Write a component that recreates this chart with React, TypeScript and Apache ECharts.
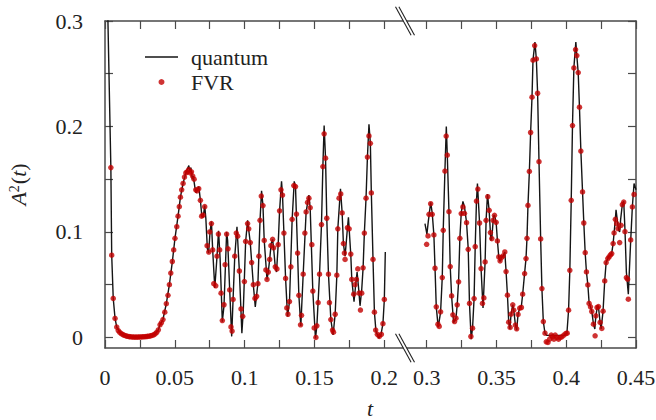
import React, { useEffect, useRef } from "react";
import * as echarts from "echarts";

// ---- axis ticks / labels ----
const xTicksLeft = [0, 0.025, 0.05, 0.075, 0.1, 0.125, 0.15, 0.175, 0.2];
const xLabelsLeft = [0, 0.05, 0.1, 0.15, 0.2];
const xTicksRight = [0.3, 0.325, 0.35, 0.375, 0.4, 0.425, 0.45];
const xLabelsRight = [0.3, 0.35, 0.4, 0.45];
const yTicks = [0, 0.05, 0.1, 0.15, 0.2, 0.25, 0.3];
const yLabels = [0, 0.1, 0.2, 0.3];

// ---- quantum curve (t, A^2) ----
const quantumLeft = [
  [0, 1.0], [0.0021, 0.30], [0.0042, 0.161], [0.0048, 0.078], [0.0059, 0.037], [0.0072, 0.018],
  [0.0084, 0.0098], [0.0106, 0.0048], [0.0139, 0.002], [0.018, 0.0006], [0.024, 0.0004],
  [0.030, 0.0009], [0.0337, 0.0019], [0.0359, 0.0034], [0.0382, 0.0072], [0.0394, 0.012],
  [0.0415, 0.017], [0.0439, 0.032], [0.0461, 0.050], [0.0482, 0.0716], [0.0501, 0.094],
  [0.0523, 0.115], [0.0540, 0.133], [0.0559, 0.146], [0.0579, 0.156], [0.0600, 0.163],
  [0.0608, 0.157], [0.0615, 0.161], [0.0625, 0.150], [0.0632, 0.153], [0.0645, 0.141],
  [0.0652, 0.137], [0.0662, 0.141], [0.0672, 0.143], [0.0683, 0.130], [0.0694, 0.114],
  [0.0704, 0.115], [0.0714, 0.125], [0.0722, 0.113], [0.0733, 0.084], [0.0742, 0.080],
  [0.0752, 0.100], [0.0762, 0.110], [0.0771, 0.083], [0.0786, 0.047], [0.0800, 0.073],
  [0.0813, 0.101], [0.0824, 0.075], [0.0840, 0.015], [0.0852, 0.030], [0.0871, 0.100],
  [0.0878, 0.092], [0.0893, 0.0445], [0.0907, 0.001], [0.0917, 0.036], [0.0929, 0.0766],
  [0.0945, 0.105], [0.0962, 0.063], [0.0980, 0.004], [0.0990, 0.025], [0.1007, 0.091],
  [0.1021, 0.111], [0.1040, 0.090], [0.1062, 0.050], [0.1076, 0.029], [0.1095, 0.0514],
  [0.1110, 0.111], [0.1121, 0.139], [0.1131, 0.125], [0.1140, 0.092], [0.1160, 0.055],
  [0.1169, 0.062], [0.1179, 0.074], [0.1190, 0.089], [0.1200, 0.093], [0.1207, 0.085],
  [0.1219, 0.067], [0.1228, 0.062], [0.1240, 0.088], [0.1250, 0.120], [0.1264, 0.148],
  [0.1271, 0.135], [0.1281, 0.099], [0.1293, 0.056], [0.1307, 0.020], [0.1321, 0.034],
  [0.1340, 0.112], [0.1355, 0.148], [0.1364, 0.143], [0.1379, 0.080], [0.1388, 0.040],
  [0.1402, 0.011], [0.1419, 0.060], [0.1440, 0.119], [0.1460, 0.135], [0.1469, 0.123],
  [0.1488, 0.044], [0.1507, -0.001], [0.1517, 0.011], [0.1536, 0.060], [0.1550, 0.107],
  [0.1560, 0.162], [0.1569, 0.201], [0.1579, 0.170], [0.1588, 0.113], [0.1600, 0.060],
  [0.1617, 0.017], [0.1633, 0.0025], [0.1648, 0.022], [0.1660, 0.059], [0.1667, 0.103],
  [0.1686, 0.141], [0.1698, 0.118], [0.1707, 0.089], [0.1719, 0.077], [0.1736, 0.104],
  [0.1743, 0.114], [0.1760, 0.078], [0.1767, 0.055], [0.1783, 0.034], [0.1795, 0.050],
  [0.1805, 0.062], [0.1815, 0.048], [0.1826, 0.030], [0.1838, 0.045], [0.1848, 0.066],
  [0.1857, 0.099], [0.1869, 0.132], [0.1879, 0.171], [0.1890, 0.202], [0.1900, 0.184],
  [0.1907, 0.137], [0.1919, 0.074], [0.1929, 0.024], [0.1940, 0.006], [0.1960, -0.0006],
  [0.1975, 0.002], [0.1990, 0.013], [0.2000, 0.036], [0.2007, 0.081]
];

const quantumRight = [
  [0.2988, 0.108], [0.3002, 0.098], [0.3012, 0.110], [0.3029, 0.128], [0.3040, 0.118],
  [0.3052, 0.097], [0.3060, 0.066], [0.3069, 0.029], [0.3083, 0.0095], [0.3100, 0.024],
  [0.3112, 0.057], [0.3119, 0.102], [0.3131, 0.158], [0.3141, 0.200], [0.3148, 0.173],
  [0.3160, 0.119], [0.3169, 0.067], [0.3179, 0.039], [0.3193, 0.014], [0.3210, 0.018],
  [0.3219, 0.031], [0.3229, 0.053], [0.3238, 0.094], [0.3248, 0.118], [0.3260, 0.129],
  [0.3271, 0.124], [0.3286, 0.109], [0.3298, 0.084], [0.3307, 0.032], [0.3319, -0.0016],
  [0.3329, 0.009], [0.3340, 0.037], [0.3348, 0.086], [0.3357, 0.129], [0.3364, 0.146],
  [0.3379, 0.109], [0.3390, 0.065], [0.3404, 0.028], [0.3419, 0.072], [0.3426, 0.111],
  [0.3436, 0.136], [0.3448, 0.120], [0.3460, 0.092], [0.3467, 0.094], [0.3479, 0.115],
  [0.3486, 0.116], [0.3498, 0.109], [0.3507, 0.092], [0.3517, 0.076], [0.3526, 0.072],
  [0.3536, 0.076], [0.3548, 0.077], [0.3560, 0.081], [0.3569, 0.063], [0.3579, 0.040],
  [0.3588, 0.015], [0.3596, 0.008], [0.3605, 0.022], [0.3617, 0.031], [0.3624, 0.026],
  [0.3636, 0.012], [0.3645, 0.007], [0.3655, 0.022], [0.3667, 0.028], [0.3679, 0.030],
  [0.3688, 0.041], [0.3702, 0.061], [0.3712, 0.075], [0.3719, 0.094], [0.3726, 0.125],
  [0.3736, 0.157], [0.3745, 0.194], [0.3755, 0.228], [0.3762, 0.263], [0.3776, 0.280],
  [0.3786, 0.264], [0.3795, 0.232], [0.3805, 0.167], [0.3817, 0.093], [0.3826, 0.046],
  [0.3836, 0.015], [0.3848, 0.004], [0.3860, 0.002], [0.3880, 0.002], [0.3900, 0.002],
  [0.3920, 0.002], [0.3940, 0.002], [0.3960, 0.002], [0.3985, 0.002], [0.4005, 0.004],
  [0.4017, 0.026], [0.4026, 0.064], [0.4036, 0.130], [0.4045, 0.201], [0.4055, 0.256],
  [0.4069, 0.280], [0.4076, 0.267], [0.4086, 0.251], [0.4095, 0.218], [0.4105, 0.177],
  [0.4117, 0.138], [0.4126, 0.109], [0.4136, 0.080], [0.4145, 0.062], [0.4155, 0.050],
  [0.4164, 0.033], [0.4174, 0.029], [0.4183, 0.025], [0.4195, 0.013], [0.4205, 0.008],
  [0.4212, 0.020], [0.4224, 0.030], [0.4231, 0.029], [0.4243, 0.014], [0.4250, 0.008],
  [0.4264, 0.025], [0.4276, 0.054], [0.4286, 0.071], [0.4298, 0.075], [0.4307, 0.077],
  [0.4317, 0.078], [0.4326, 0.080], [0.4336, 0.089], [0.4343, 0.099], [0.4352, 0.112],
  [0.4357, 0.121], [0.4367, 0.110], [0.4375, 0.102], [0.4383, 0.100], [0.4390, 0.112],
  [0.4402, 0.126], [0.4412, 0.129], [0.4421, 0.102], [0.4431, 0.062], [0.4445, 0.041],
  [0.4462, 0.092], [0.4474, 0.124], [0.4486, 0.146], [0.4500, 0.140]
];

// ---- FVR points (t, A^2) ----
const fvrLeft = [
  [0.0042, 0.161], [0.0048, 0.078], [0.0059, 0.037], [0.0072, 0.018], [0.0084, 0.0098],
  [0.0095, 0.0065], [0.0106, 0.0048], [0.0117, 0.0036], [0.0128, 0.0027], [0.0139, 0.0020],
  [0.0150, 0.0015], [0.0161, 0.0011], [0.0172, 0.0008], [0.0183, 0.0006], [0.0194, 0.0005],
  [0.0205, 0.0004], [0.0216, 0.0004], [0.0227, 0.0004], [0.0238, 0.0004], [0.0249, 0.0005],
  [0.0260, 0.0005], [0.0271, 0.0006], [0.0282, 0.0007], [0.0293, 0.0008], [0.0304, 0.0010],
  [0.0315, 0.0012], [0.0326, 0.0015], [0.0337, 0.0019], [0.0348, 0.0025], [0.0359, 0.0034],
  [0.0370, 0.0048], [0.0382, 0.0072], [0.0394, 0.012], [0.0404, 0.014], [0.0415, 0.017],
  [0.0428, 0.024], [0.0439, 0.032], [0.0451, 0.040], [0.0461, 0.050], [0.0471, 0.061],
  [0.0482, 0.072], [0.0492, 0.083], [0.0501, 0.094], [0.0514, 0.105], [0.0523, 0.115],
  [0.0532, 0.124], [0.0540, 0.133], [0.0549, 0.140], [0.0559, 0.146], [0.0569, 0.152],
  [0.0579, 0.156], [0.0588, 0.157], [0.0600, 0.159], [0.0610, 0.156], [0.0619, 0.157],
  [0.0628, 0.153], [0.0638, 0.150], [0.0650, 0.140], [0.0660, 0.139], [0.0671, 0.141],
  [0.0683, 0.130], [0.0692, 0.115], [0.0702, 0.116], [0.0714, 0.124], [0.0731, 0.087],
  [0.0743, 0.081], [0.0750, 0.100], [0.0762, 0.108], [0.0771, 0.083], [0.0779, 0.051],
  [0.0793, 0.049], [0.0802, 0.077], [0.0812, 0.098], [0.0821, 0.083], [0.0831, 0.042],
  [0.0840, 0.016], [0.0852, 0.031], [0.0860, 0.069], [0.0871, 0.098], [0.0881, 0.084],
  [0.0893, 0.045], [0.0902, 0.010], [0.0910, 0.006], [0.0917, 0.036], [0.0929, 0.077],
  [0.0940, 0.099], [0.0950, 0.096], [0.0962, 0.063], [0.0974, 0.027], [0.0986, 0.020],
  [0.0998, 0.053], [0.1007, 0.091], [0.1021, 0.108], [0.1029, 0.103], [0.1040, 0.090],
  [0.1050, 0.071], [0.1062, 0.050], [0.1074, 0.037], [0.1086, 0.039], [0.1095, 0.051],
  [0.1102, 0.077], [0.1110, 0.111], [0.1119, 0.134], [0.1131, 0.125], [0.1140, 0.092],
  [0.1152, 0.064], [0.1160, 0.055], [0.1169, 0.062], [0.1179, 0.074], [0.1188, 0.087],
  [0.1200, 0.093], [0.1207, 0.085], [0.1219, 0.067], [0.1231, 0.065], [0.1240, 0.088],
  [0.1250, 0.120], [0.1260, 0.140], [0.1271, 0.135], [0.1281, 0.099], [0.1293, 0.056],
  [0.1302, 0.028], [0.1310, 0.022], [0.1321, 0.034], [0.1331, 0.067], [0.1340, 0.112],
  [0.1352, 0.144], [0.1364, 0.143], [0.1371, 0.117], [0.1379, 0.080], [0.1388, 0.040],
  [0.1400, 0.012], [0.1407, 0.021], [0.1419, 0.060], [0.1431, 0.099], [0.1440, 0.119],
  [0.1450, 0.128], [0.1460, 0.132], [0.1469, 0.123], [0.1481, 0.088], [0.1488, 0.044],
  [0.1498, 0.009], [0.1510, 0.000], [0.1517, 0.011], [0.1526, 0.033], [0.1536, 0.060],
  [0.1550, 0.107], [0.1560, 0.162], [0.1569, 0.193], [0.1579, 0.170], [0.1588, 0.113],
  [0.1600, 0.060], [0.1607, 0.033], [0.1617, 0.017], [0.1629, 0.007], [0.1636, 0.005],
  [0.1648, 0.022], [0.1660, 0.059], [0.1667, 0.103], [0.1676, 0.132], [0.1688, 0.136],
  [0.1698, 0.118], [0.1707, 0.089], [0.1714, 0.080], [0.1719, 0.074], [0.1736, 0.104],
  [0.1748, 0.103], [0.1760, 0.079], [0.1767, 0.055], [0.1781, 0.041], [0.1790, 0.050],
  [0.1800, 0.055], [0.1810, 0.065], [0.1819, 0.042], [0.1829, 0.026], [0.1838, 0.042],
  [0.1848, 0.066], [0.1857, 0.099], [0.1869, 0.132], [0.1879, 0.171], [0.1890, 0.191],
  [0.1900, 0.184], [0.1907, 0.137], [0.1919, 0.074], [0.1929, 0.024], [0.1938, 0.007],
  [0.1950, 0.003], [0.1964, 0.001], [0.1979, 0.003], [0.1990, 0.013], [0.2000, 0.036]
];

const fvrRight = [
  [0.3000, 0.0883], [0.3010, 0.0962], [0.3017, 0.1167], [0.3029, 0.1268], [0.3040, 0.1167],
  [0.3052, 0.0972], [0.3060, 0.0656], [0.3069, 0.0290], [0.3081, 0.0126], [0.3090, 0.0104],
  [0.3100, 0.0243], [0.3112, 0.0568], [0.3119, 0.1016], [0.3131, 0.1577], [0.3140, 0.1909],
  [0.3148, 0.1729], [0.3160, 0.1192], [0.3169, 0.0672], [0.3179, 0.0394], [0.3188, 0.0215],
  [0.3200, 0.0151], [0.3210, 0.0183], [0.3219, 0.0309], [0.3229, 0.0527], [0.3238, 0.0940],
  [0.3248, 0.1174], [0.3260, 0.1237], [0.3271, 0.1177], [0.3286, 0.1088], [0.3298, 0.0836],
  [0.3307, 0.0322], [0.3317, 0.0009], [0.3329, 0.0088], [0.3340, 0.0369], [0.3348, 0.0861],
  [0.3357, 0.1293], [0.3367, 0.1407], [0.3379, 0.1085], [0.3390, 0.0653], [0.3400, 0.0322],
  [0.3410, 0.0375], [0.3419, 0.0716], [0.3426, 0.1110], [0.3438, 0.1334], [0.3448, 0.1205],
  [0.3457, 0.0994], [0.3467, 0.0937], [0.3476, 0.1110], [0.3486, 0.1158], [0.3498, 0.1091],
  [0.3507, 0.0915], [0.3517, 0.0763], [0.3526, 0.0726], [0.3536, 0.0757], [0.3548, 0.0773],
  [0.3560, 0.0811], [0.3569, 0.0625], [0.3579, 0.0401], [0.3588, 0.0145], [0.3598, 0.0095],
  [0.3605, 0.0221], [0.3617, 0.0309], [0.3624, 0.0259], [0.3636, 0.0117], [0.3645, 0.0082],
  [0.3655, 0.0218], [0.3667, 0.0278], [0.3679, 0.0284], [0.3688, 0.0410], [0.3702, 0.0606],
  [0.3712, 0.0748], [0.3719, 0.0940], [0.3726, 0.1252], [0.3736, 0.1574], [0.3745, 0.1943],
  [0.3755, 0.2278], [0.3762, 0.2628], [0.3774, 0.2767], [0.3786, 0.2640], [0.3795, 0.2315],
  [0.3805, 0.1666], [0.3817, 0.0934], [0.3826, 0.0464], [0.3836, 0.0151], [0.3848, 0.0041],
  [0.3857, -0.0041], [0.3869, -0.0047], [0.3881, -0.0016], [0.3893, 0.0022], [0.3902, 0.0006],
  [0.3912, -0.0016], [0.3921, 0.0022], [0.3933, 0.0000], [0.3945, -0.0016], [0.3957, 0.0000],
  [0.3969, 0.0006], [0.3983, 0.0022], [0.3998, 0.0038], [0.4007, 0.0041], [0.4017, 0.0259],
  [0.4026, 0.0637], [0.4036, 0.1300], [0.4045, 0.2009], [0.4055, 0.2555], [0.4067, 0.2729],
  [0.4076, 0.2672], [0.4086, 0.2511], [0.4095, 0.2183], [0.4105, 0.1767], [0.4117, 0.1379],
  [0.4126, 0.1085], [0.4136, 0.0804], [0.4145, 0.0621], [0.4155, 0.0498], [0.4164, 0.0322],
  [0.4174, 0.0290], [0.4183, 0.0246], [0.4195, 0.0126], [0.4207, 0.0016], [0.4212, 0.0205],
  [0.4221, 0.0284], [0.4231, 0.0293], [0.4243, 0.0142], [0.4255, 0.0085], [0.4264, 0.0249],
  [0.4276, 0.0536], [0.4286, 0.0710], [0.4298, 0.0748], [0.4307, 0.0763], [0.4317, 0.0782],
  [0.4326, 0.0795], [0.4336, 0.0890], [0.4343, 0.0991], [0.4352, 0.1120], [0.4362, 0.1079],
  [0.4371, 0.1032], [0.4383, 0.0899], [0.4393, 0.1063], [0.4402, 0.1259], [0.4412, 0.1284],
  [0.4421, 0.1003], [0.4431, 0.0568], [0.4440, 0.0552], [0.4445, 0.0363], [0.4462, 0.0924],
  [0.4474, 0.1237], [0.4486, 0.1356]
];

const FONT = "'Liberation Serif', 'DejaVu Serif', serif";
const AXIS_COLOR = "#4a4a4a";
const TEXT_COLOR = "#222";
const LINE_COLOR = "#151515";
const DOT_COLOR = "#c30000";

const fmt = (v: number) => String(+Number(v).toFixed(3));

function xAxisCfg(grid: number, pos: "top" | "bottom", min: number, max: number, ticks: number[], labels: number[]) {
  return {
    type: "value",
    gridIndex: grid,
    position: pos,
    min,
    max,
    axisLine: { show: true, onZero: false, lineStyle: { color: AXIS_COLOR, width: 1.5 } },
    axisTick: { show: true, inside: true, length: 8, customValues: ticks, lineStyle: { color: AXIS_COLOR, width: 1.2 } },
    axisLabel: {
      show: pos === "bottom",
      customValues: labels,
      formatter: fmt,
      fontFamily: FONT,
      fontSize: 22,
      color: TEXT_COLOR,
      margin: 18,
    },
    splitLine: { show: false },
  };
}

function yAxisCfg(grid: number, pos: "left" | "right", showLabels: boolean) {
  return {
    type: "value",
    gridIndex: grid,
    position: pos,
    min: -0.01,
    max: 0.3,
    axisLine: { show: true, onZero: false, lineStyle: { color: AXIS_COLOR, width: 1.5 } },
    axisTick: { show: true, inside: true, length: 8, customValues: yTicks, lineStyle: { color: AXIS_COLOR, width: 1.2 } },
    axisLabel: {
      show: showLabels,
      customValues: yLabels,
      formatter: fmt,
      fontFamily: FONT,
      fontSize: 22,
      color: TEXT_COLOR,
      margin: 22,
    },
    splitLine: { show: false },
    ...(showLabels
      ? {
          name: "{i|A}{s|2}{n|(}{i|t}{n|)}",
          nameLocation: "middle",
          nameGap: 76,
          nameTextStyle: {
            color: TEXT_COLOR,
            rich: {
              i: { fontFamily: FONT, fontStyle: "italic", fontSize: 22, color: TEXT_COLOR },
              n: { fontFamily: FONT, fontSize: 22, color: TEXT_COLOR },
              s: { fontFamily: FONT, fontSize: 14, color: TEXT_COLOR, verticalAlign: "top", padding: [0, 1, 8, 0] },
            },
          },
        }
      : {}),
  };
}

function breakMark(cx: number, cy: number) {
  const dx = 7.8, dy = 14.2, off = 1.7;
  return [
    { type: "rect", z: 100, shape: { x: cx - off, y: cy - 2.5, width: off * 2, height: 5 }, style: { fill: "#fff" } },
    { type: "line", z: 101, shape: { x1: cx - off - dx, y1: cy - dy, x2: cx - off + dx, y2: cy + dy }, style: { stroke: "#222", lineWidth: 1.1 } },
    { type: "line", z: 101, shape: { x1: cx + off - dx, y1: cy - dy, x2: cx + off + dx, y2: cy + dy }, style: { stroke: "#222", lineWidth: 1.1 } },
  ];
}

export default function App() {
  const ref = useRef<HTMLDivElement>(null);
  useEffect(() => {
    if (!ref.current) return;
    const chart = echarts.init(ref.current, undefined, { renderer: "svg" });
    const option: any = {
      animation: false,
      backgroundColor: "#fff",
      grid: [
        { left: 105, top: 21, width: 300, height: 327, outerBoundsMode: "none" },
        { left: 405, top: 21, width: 231, height: 327, outerBoundsMode: "none" },
      ],
      xAxis: [
        xAxisCfg(0, "bottom", 0, 0.2148, xTicksLeft, xLabelsLeft),
        xAxisCfg(1, "bottom", 0.2845, 0.45, xTicksRight, xLabelsRight),
        xAxisCfg(0, "top", 0, 0.2148, xTicksLeft, []),
        xAxisCfg(1, "top", 0.2845, 0.45, xTicksRight, []),
      ],
      yAxis: [yAxisCfg(0, "left", true), yAxisCfg(1, "right", false)],
      legend: {
        orient: "vertical",
        left: 145,
        top: 46,
        itemWidth: 33,
        itemHeight: 6,
        itemGap: 3,
        padding: 0,
        data: [
          { name: "quantum", icon: "path://M0,0 L33,0 L33,1.4 L0,1.4 Z", itemStyle: { color: LINE_COLOR } },
          { name: "FVR", icon: "circle" },
        ],
        textStyle: { fontFamily: FONT, fontSize: 22, color: TEXT_COLOR, padding: [0, 0, 0, 8] },
      },
      graphic: [
        ...breakMark(405, 21),
        ...breakMark(405, 348),
        {
          type: "text",
          x: 370,
          y: 408,
          style: { text: "t", fontFamily: FONT, fontStyle: "italic", fontSize: 22, fill: TEXT_COLOR, align: "center", verticalAlign: "middle" },
        },
      ],
      series: [
        {
          name: "quantum", type: "line", xAxisIndex: 0, yAxisIndex: 0, data: quantumLeft,
          symbol: "none", showSymbol: false, lineStyle: { color: LINE_COLOR, width: 1.4 }, itemStyle: { color: LINE_COLOR }, z: 2,
        },
        {
          name: "quantum", type: "line", xAxisIndex: 1, yAxisIndex: 1, data: quantumRight,
          symbol: "none", showSymbol: false, lineStyle: { color: LINE_COLOR, width: 1.4 }, itemStyle: { color: LINE_COLOR }, z: 2,
        },
        {
          name: "FVR", type: "scatter", xAxisIndex: 0, yAxisIndex: 0, data: fvrLeft,
          symbol: "circle", symbolSize: 5.5, itemStyle: { color: DOT_COLOR }, z: 3,
        },
        {
          name: "FVR", type: "scatter", xAxisIndex: 1, yAxisIndex: 1, data: fvrRight,
          symbol: "circle", symbolSize: 5.5, itemStyle: { color: DOT_COLOR }, z: 3,
        },
      ],
    };
    chart.setOption(option);
    return () => chart.dispose();
  }, []);
  return <div ref={ref} style={{ width: 656, height: 420, position: "absolute", left: 0, top: 0 }} />;
}
